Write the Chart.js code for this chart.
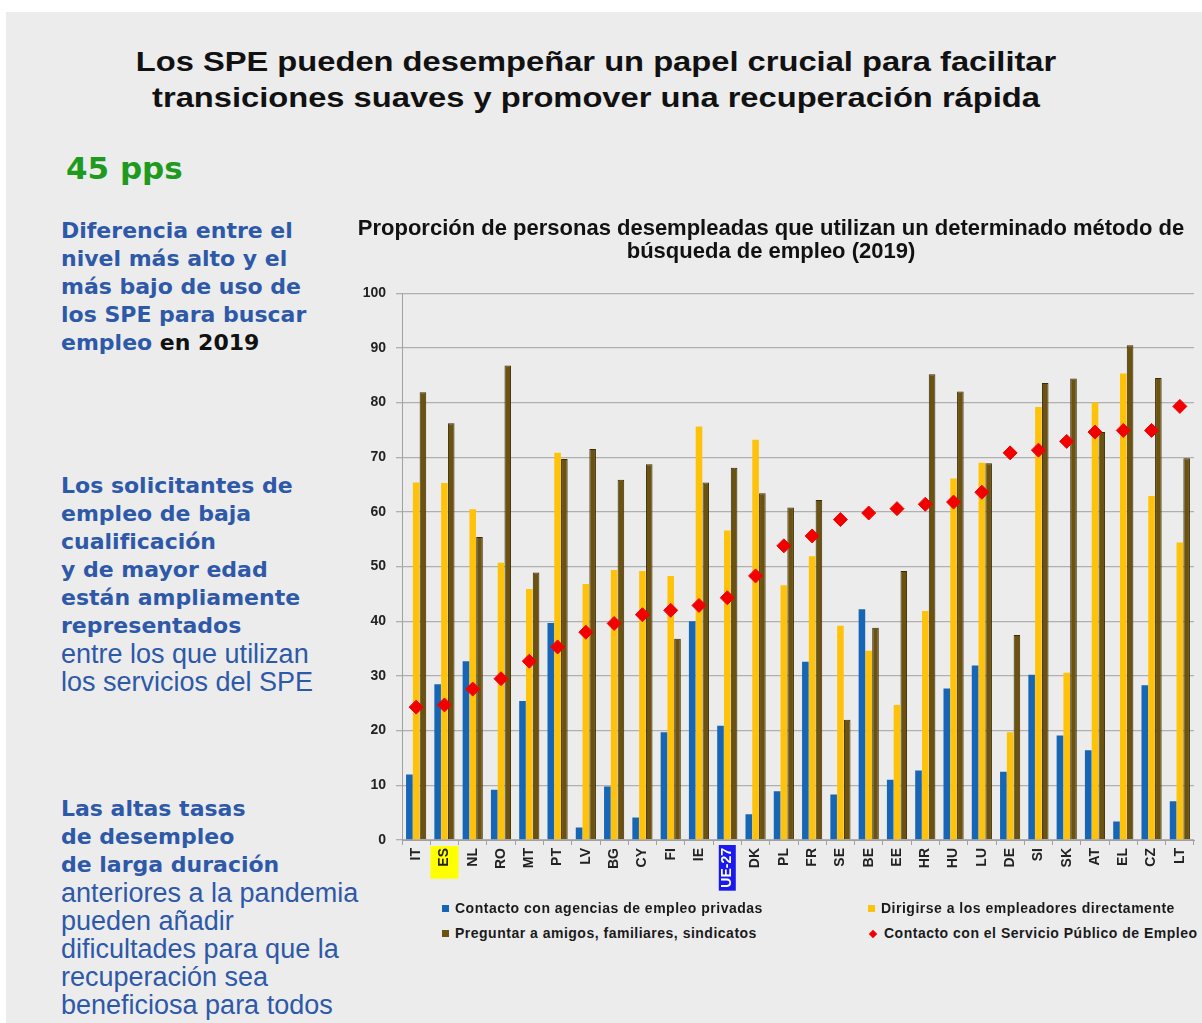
<!DOCTYPE html>
<html lang="es">
<head>
<meta charset="utf-8">
<title>SPE - métodos de búsqueda de empleo 2019</title>
<script src="https://cdn.jsdelivr.net/npm/chart.js@4.4.1/dist/chart.umd.min.js"></script>
<style>
  html, body { margin: 0; padding: 0; background: #ffffff; }
  body { width: 1202px; height: 1023px; position: relative; overflow: hidden; }
  #panel { position: absolute; left: 6px; top: 12px; right: 0; bottom: 0; background: #ececec; }
  #titulo {
    position: absolute; left: 0; width: 1192px; top: 44px; text-align: center;
    font: bold 27px "Liberation Sans", Arial, sans-serif; line-height: 36px; color: #111;
    transform: scaleX(1.21); transform-origin: 596px 0;
  }
  #pps { position: absolute; left: 66px; top: 150px; font: bold 31px "DejaVu Sans", Verdana, sans-serif; color: #1e9a1e; }
  .bloque { position: absolute; left: 61px; color: #2e59a8; white-space: nowrap; }
  .bloque b { font: bold 22px "DejaVu Sans", Verdana, sans-serif; line-height: 28px; display: block; }
  .bloque span { font: 27px "Liberation Sans", Arial, sans-serif; line-height: 28px; display: block; }
  .bloque .negro { display: inline; color: #111; }
  #grafico { position: absolute; left: 340px; top: 212px; }
  #leyenda { position: absolute; left: 0; top: 0; }
  .item { position: absolute; font: bold 14px "Liberation Sans", Arial, sans-serif; letter-spacing: 0.5px; color: #1a1a1a; white-space: nowrap; }
  .marca { display: inline-block; width: 7px; height: 7px; margin-right: 6px; vertical-align: 1px; }
  .rombo { width: 6px; height: 6px; transform: rotate(45deg); margin-right: 8px; margin-left: 2px; }
</style>
</head>
<body>
<div id="panel"></div>
<div id="titulo">Los <b style="font-weight:900">SPE</b> pueden desempeñar un papel crucial para facilitar<br>transiciones suaves y promover una recuperación rápida</div>
<div id="pps">45 pps</div>

<div class="bloque" style="top:217px">
  <b>Diferencia entre el</b>
  <b>nivel más alto y el</b>
  <b>más bajo de uso de</b>
  <b>los SPE para buscar</b>
  <b>empleo <span class="negro" style="font:inherit">en 2019</span></b>
</div>
<div class="bloque" style="top:472px">
  <b>Los solicitantes de</b>
  <b>empleo de baja</b>
  <b>cualificación</b>
  <b>y de mayor edad</b>
  <b>están ampliamente</b>
  <b>representados</b>
  <span>entre los que utilizan</span>
  <span>los servicios del SPE</span>
</div>
<div class="bloque" style="top:795px">
  <b>Las altas tasas</b>
  <b>de desempleo</b>
  <b>de larga duración</b>
  <span>anteriores a la pandemia</span>
  <span>pueden añadir</span>
  <span>dificultades para que la</span>
  <span>recuperación sea</span>
  <span>beneficiosa para todos</span>
</div>

<canvas id="grafico" width="862" height="690"></canvas>
<div id="leyenda"></div>

<script>
// categorías (orden del gráfico original, de menor a mayor uso del SPE)
const paises = ['IT', 'ES', 'NL', 'RO', 'MT', 'PT', 'LV', 'BG', 'CY', 'FI', 'IE', 'UE-27', 'DK', 'PL',
  'FR', 'SE', 'BE', 'EE', 'HR', 'HU', 'LU', 'DE', 'SI', 'SK', 'AT', 'EL', 'CZ', 'LT'];

// % de personas desempleadas que usan cada método
const agenciasPrivadas = [12, 28.5, 32.7, 9.2, 25.4, 39.7, 2.3, 9.8, 4.1, 19.7, 40, 20.9, 4.7, 8.9,
  32.6, 8.3, 42.2, 11, 12.7, 27.7, 31.9, 12.5, 30.2, 19.1, 16.4, 3.4, 28.3, 7.1];
const empleadoresDirecto = [65.4, 65.3, 60.5, 50.7, 45.9, 70.8, 46.8, 49.4, 49.2, 48.3, 75.6, 56.6, 73.2, 46.6,
  51.9, 39.2, 34.6, 24.7, 41.9, 66.1, 69, 19.7, 79.2, 30.6, 80, 85.3, 62.9, 54.4];
const amigosFamiliares = [81.9, 76.2, 55.4, 86.8, 48.9, 69.7, 71.5, 65.9, 68.7, 36.8, 65.4, 68.1, 63.4, 60.8,
  62.2, 22, 38.8, 49.2, 85.2, 82, 68.9, 37.5, 83.6, 84.4, 74.6, 90.5, 84.5, 69.8];
const servicioPublico = [24.3, 24.7, 27.6, 29.5, 32.7, 35.3, 38, 39.6, 41.2, 42, 42.9, 44.3, 48.3, 53.8,
  55.6, 58.6, 59.8, 60.6, 61.4, 61.8, 63.6, 70.8, 71.3, 72.9, 74.6, 74.9, 74.9, 79.3];

const series = [
  'Contacto con agencias de empleo privadas',
  'Dirigirse a los empleadores directamente',
  'Preguntar a amigos, familiares, sindicatos',
  'Contacto con el Servicio Público de Empleo'
];
const colores = ['#1766b5', '#ffc20a', '#6b5210', '#f20000'];

const fuente = '"Liberation Sans", Arial, sans-serif';
const fuenteEjeX = { family: fuente, size: 14, weight: 'bold' };
const idxUE = paises.indexOf('UE-27');

// fondos de las etiquetas destacadas (España en amarillo, UE-27 en azul)
const resaltes = {
  'ES': { fondo: '#ffff00', ancho: 28, antes: 2, despues: 12 },
  'UE-27': { fondo: '#1a1aee', ancho: 17, antes: 3, despues: 3 }
};

const fondoEtiquetas = {
  id: 'fondoEtiquetas',
  beforeDraw(chart) {
    const esc = chart.scales.x;
    const ctx = chart.ctx;
    const y0 = esc.top + esc.options.grid.tickLength + esc.options.ticks.padding;
    ctx.save();
    ctx.font = `bold ${fuenteEjeX.size}px ${fuente}`;
    paises.forEach((p, i) => {
      const r = resaltes[p];
      if (!r) return;
      const largo = ctx.measureText(p).width;
      const x = esc.getPixelForTick(i);
      ctx.fillStyle = r.fondo;
      ctx.fillRect(x - r.ancho / 2, y0 - r.antes, r.ancho, largo + r.antes + r.despues);
    });
    ctx.restore();
  }
};

new Chart(document.getElementById('grafico'), {
  type: 'bar',
  data: {
    labels: paises,
    datasets: [
      { label: series[0], data: agenciasPrivadas, backgroundColor: colores[0], order: 1 },
      { label: series[1], data: empleadoresDirecto, backgroundColor: colores[1], order: 1 },
      { label: series[2], data: amigosFamiliares, backgroundColor: colores[2], borderColor: '#3a2b03',
        borderWidth: { left: 1, right: 1, top: 1, bottom: 0 }, order: 1 },
      { type: 'line', label: series[3], data: servicioPublico, showLine: false, order: 0,
        pointStyle: 'rectRot', pointRadius: 7, backgroundColor: colores[3], borderColor: colores[3] }
    ]
  },
  options: {
    responsive: false,
    animation: false,
    categoryPercentage: 0.72,
    barPercentage: 0.97,
    layout: { padding: 0 },
    plugins: {
      legend: { display: false },
      tooltip: { enabled: false },
      title: {
        display: true,
        text: ['Proporción de personas desempleadas que utilizan un determinado método de',
               'búsqueda de empleo (2019)'],
        color: '#111',
        font: { family: fuente, size: 22, weight: 'bold', lineHeight: 1.05 },
        padding: { top: 5, bottom: 30 }
      }
    },
    scales: {
      x: {
        offset: true,
        grid: { drawOnChartArea: false, offset: true, tickLength: 5, color: '#a0a0a0' },
        border: { color: '#a0a0a0' },
        ticks: {
          autoSkip: false, minRotation: 90, maxRotation: 90, padding: 3,
          font: fuenteEjeX,
          color: c => c.index === idxUE ? '#ffffff' : '#222'
        },
        afterFit: s => { s.height = 62; s.paddingLeft = 0; s.paddingRight = 0; }
      },
      y: {
        min: 0, max: 100,
        grid: { color: '#b0b0b0', tickLength: 6, lineWidth: 1.3 },
        border: { color: '#a0a0a0' },
        ticks: { stepSize: 10, padding: 10, color: '#222', font: { family: fuente, size: 14, weight: 'bold' } },
        afterFit: s => { s.width = 62; s.paddingTop = 0; }
      }
    }
  },
  plugins: [fondoEtiquetas]
});

// leyenda en dos columnas, como en el original
const posLeyenda = [[442, 900], [868, 900], [442, 925], [868, 925]];
const leyenda = document.getElementById('leyenda');
series.forEach((txt, i) => {
  const d = document.createElement('div');
  d.className = 'item';
  d.style.left = posLeyenda[i][0] + 'px';
  d.style.top = posLeyenda[i][1] + 'px';
  const m = document.createElement('span');
  m.className = 'marca' + (i === 3 ? ' rombo' : '');
  m.style.background = colores[i];
  d.appendChild(m);
  d.appendChild(document.createTextNode(txt));
  leyenda.appendChild(d);
});
</script>
</body>
</html>
